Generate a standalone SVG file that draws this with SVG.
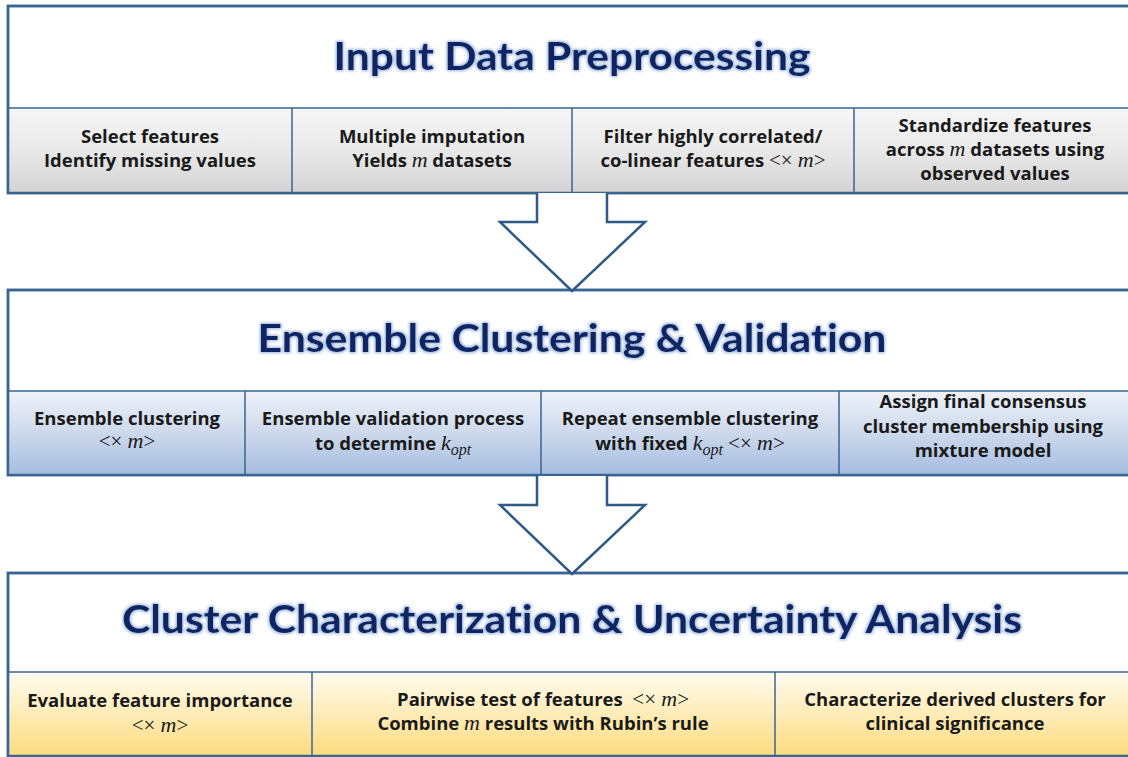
<svg xmlns="http://www.w3.org/2000/svg" width="1128" height="757" viewBox="0 0 1128 757">
<defs>
<linearGradient id="gGray" x1="0" y1="0" x2="0" y2="1">
<stop offset="0" stop-color="#f6f6f6"/><stop offset="0.5" stop-color="#e9e9e9"/><stop offset="1" stop-color="#d3d3d3"/>
</linearGradient>
<linearGradient id="gBlue" x1="0" y1="0" x2="0" y2="1">
<stop offset="0" stop-color="#eef2f9"/><stop offset="0.5" stop-color="#cdd9ec"/><stop offset="1" stop-color="#a6bde0"/>
</linearGradient>
<linearGradient id="gYellow" x1="0" y1="0" x2="0" y2="1">
<stop offset="0" stop-color="#fffcf0"/><stop offset="0.5" stop-color="#feecb8"/><stop offset="1" stop-color="#fcdc80"/>
</linearGradient>
<filter id="glow" x="-5%" y="-30%" width="110%" height="160%">
<feMorphology in="SourceAlpha" operator="dilate" radius="1" result="d"/>
<feGaussianBlur in="d" stdDeviation="1.8" result="b"/>
<feFlood flood-color="#7f9fd0" flood-opacity="0.8"/>
<feComposite in2="b" operator="in" result="g"/>
<feMerge><feMergeNode in="g"/><feMergeNode in="SourceGraphic"/></feMerge>
</filter>
</defs>
<style>
.panel{fill:#ffffff;stroke:#3a6592;stroke-width:2.5}
.div{stroke:#3a6592;stroke-width:1.5;fill:none}
.title{font-family:Lato,"Open Sans",sans-serif;font-weight:700;font-size:39px;fill:#0a2764;text-anchor:middle;font-variant-ligatures:none}
.t{font-family:"Open Sans","Noto Sans",sans-serif;font-weight:700;font-size:18.5px;fill:#1a1a1a;text-anchor:middle}
.m{font-family:"Liberation Serif","DejaVu Serif",serif;font-style:italic;font-weight:400;font-size:22px}
.s{font-family:"Liberation Serif","DejaVu Serif",serif;font-weight:400;font-size:21px}
.sub{font-family:"Liberation Serif","DejaVu Serif",serif;font-style:italic;font-weight:400;font-size:16px}
.arrow{fill:#ffffff;stroke:#2f5a88;stroke-width:2.5;stroke-linejoin:miter}
</style>

<g id="panel1">
<rect class="panel" x="8" y="6" width="1130" height="187"/>
<rect x="9.5" y="108" width="1128" height="84" fill="url(#gGray)"/>
<line class="div" x1="8" y1="108" x2="1128" y2="108"/>
<line class="div" x1="292" y1="108" x2="292" y2="193"/>
<line class="div" x1="572" y1="108" x2="572" y2="193"/>
<line class="div" x1="854" y1="108" x2="854" y2="193"/>
<rect x="8" y="6" width="1130" height="187" fill="none" stroke="#3a6592" stroke-width="2.5"/>
<text class="title" x="572" y="70" textLength="477" lengthAdjust="spacingAndGlyphs" filter="url(#glow)">Input Data Preprocessing</text>
<text class="t" x="150" y="143">Select features</text>
<text class="t" x="150" y="167">Identify missing values</text>
<text class="t" x="432" y="143">Multiple imputation</text>
<text class="t" x="432" y="167">Yields <tspan class="m">m</tspan> datasets</text>
<text class="t" x="713" y="143">Filter highly correlated/</text>
<text class="t" x="713" y="167">co-linear features <tspan class="s">&lt;× </tspan><tspan class="m">m</tspan><tspan class="s">&gt;</tspan></text>
<text class="t" x="995" y="132">Standardize features</text>
<text class="t" x="995" y="156">across <tspan class="m">m</tspan> datasets using</text>
<text class="t" x="995" y="180">observed values</text>
</g>

<g id="panel2">
<rect class="panel" x="8" y="290" width="1130" height="185"/>
<rect x="9.5" y="391" width="1128" height="83" fill="url(#gBlue)"/>
<line class="div" x1="8" y1="391" x2="1128" y2="391"/>
<line class="div" x1="245" y1="391" x2="245" y2="475"/>
<line class="div" x1="541" y1="391" x2="541" y2="475"/>
<line class="div" x1="839" y1="391" x2="839" y2="475"/>
<rect x="8" y="290" width="1130" height="185" fill="none" stroke="#3a6592" stroke-width="2.5"/>
<text class="title" x="572" y="352" textLength="629" lengthAdjust="spacingAndGlyphs" filter="url(#glow)">Ensemble Clustering &amp; Validation</text>
<text class="t" x="127" y="425">Ensemble clustering</text>
<text class="t" x="127" y="448"><tspan class="s">&lt;× </tspan><tspan class="m">m</tspan><tspan class="s">&gt;</tspan></text>
<text class="t" x="393" y="425">Ensemble validation process</text>
<text class="t" x="393" y="450">to determine <tspan class="m">k</tspan><tspan class="sub" dy="5">opt</tspan></text>
<text class="t" x="690" y="425">Repeat ensemble clustering</text>
<text class="t" x="690" y="450">with fixed <tspan class="m">k</tspan><tspan class="sub" dy="5">opt</tspan><tspan class="s" dy="-5"> &lt;× </tspan><tspan class="m">m</tspan><tspan class="s">&gt;</tspan></text>
<text class="t" x="983" y="408">Assign final consensus</text>
<text class="t" x="983" y="433">cluster membership using</text>
<text class="t" x="983" y="457">mixture model</text>
</g>

<g id="panel3">
<rect class="panel" x="8" y="573" width="1130" height="183"/>
<rect x="9.5" y="672" width="1128" height="83" fill="url(#gYellow)"/>
<line class="div" x1="8" y1="672" x2="1128" y2="672"/>
<line class="div" x1="312" y1="672" x2="312" y2="756"/>
<line class="div" x1="775" y1="672" x2="775" y2="756"/>
<rect x="8" y="573" width="1130" height="183" fill="none" stroke="#3a6592" stroke-width="2.5"/>
<text class="title" x="572" y="633" textLength="900" lengthAdjust="spacingAndGlyphs" filter="url(#glow)">Cluster Characterization &amp; Uncertainty Analysis</text>
<text class="t" x="160" y="707">Evaluate feature importance</text>
<text class="t" x="160" y="732"><tspan class="s">&lt;× </tspan><tspan class="m">m</tspan><tspan class="s">&gt;</tspan></text>
<text class="t" x="543" y="706">Pairwise test of features&#160; <tspan class="s">&lt;× </tspan><tspan class="m">m</tspan><tspan class="s">&gt;</tspan></text>
<text class="t" x="543" y="730">Combine <tspan class="m">m</tspan> results with Rubin’s rule</text>
<text class="t" x="955" y="706">Characterize derived clusters for</text>
<text class="t" x="955" y="730">clinical significance</text>
</g>

<g id="connectors">
<path class="arrow" d="M537,193 V222 H500 L572,291 L645,222 H607 V193"/>
<path class="arrow" d="M537,476 V505 H500 L572,574 L645,505 H607 V476"/>
</g>
</svg>
